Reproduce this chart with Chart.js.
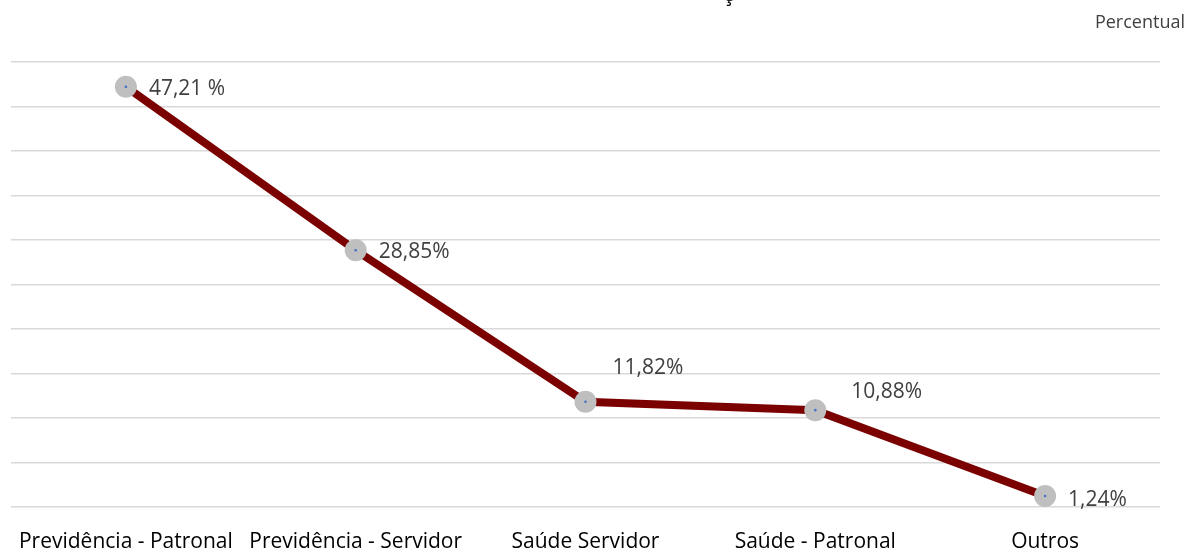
<!DOCTYPE html>
<html>
<head>
<meta charset="utf-8">
<script src="https://cdn.jsdelivr.net/npm/chart.js@4/dist/chart.umd.min.js"></script>
<style>
  html, body { margin: 0; padding: 0; background: #fff; }
  #wrap { width: 1186px; height: 548px; position: relative; }
</style>
</head>
<body>
<div id="wrap"><canvas id="c" width="1186" height="548"></canvas></div>
<script>
const categories = ["Previdência - Patronal", "Previdência - Servidor", "Saúde Servidor", "Saúde - Patronal", "Outros"];
const percentValues = [47.21, 28.85, 11.82, 10.88, 1.24];
const valueLabels = ["47,21 %", "28,85%", "11,82%", "10,88%", "1,24%"];
const unitLabel = "Percentual";
const titleFragment = "ç";

const FONT = "'Open Sans', sans-serif";

const extrasPlugin = {
  id: 'extras',
  afterDatasetsDraw(chart) {
    const ctx = chart.ctx;
    const meta = chart.getDatasetMeta(0);
    const offsets = [[23, 2], [23, 2], [27, -34], [36, -18], [23, 4]];
    ctx.save();
    meta.data.forEach(pt => {
      ctx.beginPath();
      ctx.fillStyle = '#4472C4';
      ctx.arc(pt.x, pt.y, 1.3, 0, Math.PI * 2);
      ctx.fill();
    });
    ctx.font = "21px " + FONT;
    ctx.fillStyle = '#404040';
    ctx.textAlign = 'left';
    ctx.textBaseline = 'middle';
    meta.data.forEach((pt, i) => {
      const o = offsets[i];
      ctx.fillText(valueLabels[i], pt.x + o[0], pt.y + o[1]);
    });
    ctx.font = "18px " + FONT;
    ctx.fillStyle = '#404040';
    ctx.textAlign = 'right';
    ctx.fillText(unitLabel, 1185, 23);
    ctx.font = "22px " + FONT;
    ctx.fillStyle = '#000';
    ctx.textAlign = 'center';
    ctx.textBaseline = 'alphabetic';
    ctx.fillText(titleFragment, 728, 1);
    ctx.restore();
  }
};

new Chart(document.getElementById('c'), {
  type: 'line',
  data: {
    labels: categories,
    datasets: [{
      data: percentValues,
      borderColor: '#7B0000',
      borderWidth: 8,
      tension: 0,
      pointRadius: 11,
      pointHoverRadius: 11,
      pointBackgroundColor: '#BFBFBF',
      pointBorderWidth: 0,
      fill: false
    }]
  },
  options: {
    responsive: false,
    animation: false,
    events: [],
    layout: { padding: { left: 10, right: 26, top: 62, bottom: 0 } },
    plugins: { legend: { display: false }, tooltip: { enabled: false }, title: { display: false } },
    scales: {
      x: {
        type: 'category',
        offset: true,
        grid: { display: false, drawTicks: false },
        border: { display: false },
        ticks: { color: '#000', font: { family: FONT, size: 21 }, padding: 22, maxRotation: 0, autoSkip: false },
        afterFit(scale) { scale.height = 41; scale.paddingLeft = 0; scale.paddingRight = 0; }
      },
      y: {
        min: 0, max: 50,
        ticks: { stepSize: 5, display: false },
        grid: { color: '#D9D9D9', lineWidth: 1.5, drawTicks: false },
        border: { display: false },
        afterFit(scale) { scale.width = 0; }
      }
    }
  },
  plugins: [extrasPlugin]
});
</script>
</body>
</html>
